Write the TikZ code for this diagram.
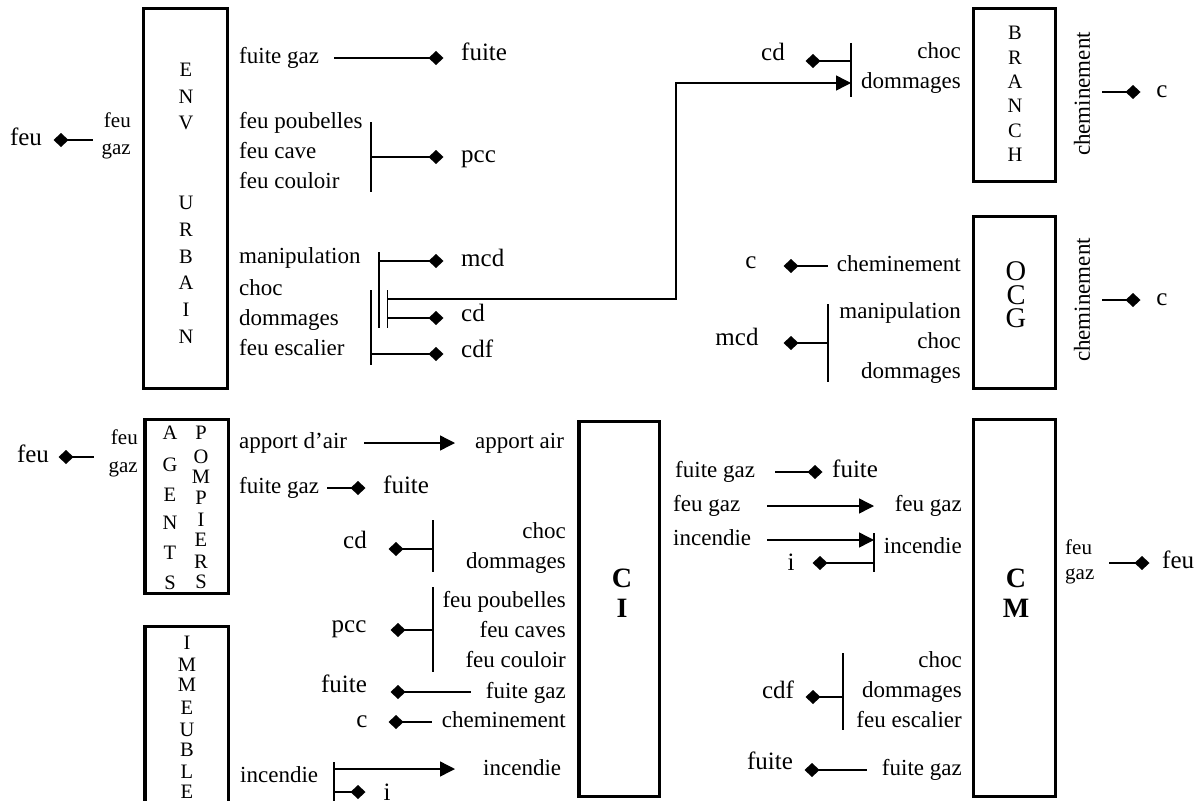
\documentclass[tikz,border=0pt]{standalone}
\usepackage{fontspec}
\setmainfont{Liberation Serif}
\usetikzlibrary{arrows.meta}
\newcommand{\Dmd}[3]{\coordinate (#1) at (#2,#3); \fill (#1) +(-7.5,0) -- +(0,-7) -- +(7.5,0) -- +(0,7) -- cycle;}
\tikzset{
  lb/.style={inner sep=0pt, font=\fontsize{23}{27}\selectfont, text height=10.4pt, text depth=0pt},
  lbw/.style={lb, anchor=west},
  lbe/.style={lb, anchor=east},
  bg/.style={inner sep=0pt, font=\fontsize{25}{29}\selectfont, text height=11.3pt, text depth=0pt},
  sm/.style={inner sep=0pt, font=\fontsize{21}{25}\selectfont, text height=9.5pt, text depth=0pt},
  boxlet/.style={inner sep=0pt, font=\fontsize{20.5}{24}\selectfont, text height=13.5pt, text depth=0pt},
  biglet/.style={inner sep=0pt, align=center, font=\fontsize{28.5}{23.5}\selectfont},
  boldlet/.style={inner sep=0pt, font=\fontsize{28}{32}\selectfont\bfseries, text height=18.5pt, text depth=0pt},
  rot/.style={inner sep=0pt, font=\fontsize{23}{27}\selectfont, text height=15.5pt, text depth=0pt, rotate=90},
  blk/.style={draw, line width=3.5pt, inner sep=0pt},
  cn/.style={line width=1.4pt},
  arr/.style={cn, -{Triangle[length=15pt,width=15pt]}}
}
\begin{document}
\begin{tikzpicture}[x=1pt,y=-1pt]
\useasboundingbox (0,0) rectangle (1198,800);
\clip (0,0) rectangle (1198,800);

% ===== ENV URBAIN =====
\node[blk, minimum width=84pt, minimum height=380pt] (env) at (185.5,198.5) {};
\foreach \l/\y [count=\i] in {E/70,N/97,V/123,U/203,R/230,B/257,A/283,I/310,N/337}
  \node[boxlet] (env\i) at (186,\y) {\l};
\node[bg] (fa) at (26,140) {feu};
\Dmd{fad}{61}{140}
\coordinate (fae) at (93,140);
\draw[cn] (fad) -- (fae);
\node[sm, anchor=east] (fa1) at (131,123) {feu};
\node[sm, anchor=east] (fa2) at (131,150) {gaz};

\node[lbw] (e1) at (239,58) {fuite gaz};
\coordinate (e1s) at (334,58);
\Dmd{e1d}{436}{58}
\draw[cn] (e1s) -- (e1d);
\node[bg, anchor=west] (e1r) at (461,55) {fuite};

\node[lbw] (e2) at (239,123) {feu poubelles};
\node[lbw] (e3) at (239,153) {feu cave};
\node[lbw] (e4) at (239,183) {feu couloir};
\coordinate (b1t) at (371,122); \coordinate (b1b) at (371,192); \coordinate (b1m) at (371,157);
\draw[cn] (b1t) -- (b1b);
\Dmd{e2d}{436}{157}
\draw[cn] (b1m) -- (e2d);
\node[bg, anchor=west] (e2r) at (461,157) {pcc};

\node[lbw] (e5) at (239,258) {manipulation};
\node[lbw] (e6) at (239,290) {choc};
\node[lbw] (e7) at (239,320) {dommages};
\node[lbw] (e8) at (239,350) {feu escalier};
\coordinate (bAt) at (371,290); \coordinate (bAb) at (371,365); \coordinate (bAm) at (371,354);
\coordinate (bBt) at (379,252); \coordinate (bBb) at (379,328); \coordinate (bBm) at (379,261);
\coordinate (bCt) at (387.5,290); \coordinate (bCb) at (387.5,328);
\coordinate (bCm) at (387.5,318); \coordinate (bCu) at (387.5,299);
\draw[cn] (bAt) -- (bAb);
\draw[cn] (bBt) -- (bBb);
\draw[cn] (bCt) -- (bCb);
\Dmd{e5d}{436}{261}
\draw[cn] (bBm) -- (e5d);
\node[bg, anchor=west] (e5r) at (461,261) {mcd};
\Dmd{e7d}{436}{318}
\draw[cn] (bCm) -- (e7d);
\node[bg, anchor=west] (e7r) at (461,316) {cd};
\Dmd{e8d}{436}{354}
\draw[cn] (bAm) -- (e8d);
\node[bg, anchor=west] (e8r) at (461,352) {cdf};

% ===== BRANCH =====
\node[blk, minimum width=82pt, minimum height=173pt] (branch) at (1014.5,95) {};
\foreach \l/\y [count=\i] in {B/33,R/58,A/82,N/106,C/131,H/155}
  \node[boxlet] (br\i) at (1015,\y) {\l};
\coordinate (bDt) at (851,43); \coordinate (bDb) at (851,97);
\coordinate (bDm) at (851,61); \coordinate (bDa) at (851,83);
\draw[cn] (bDt) -- (bDb);
\node[bg] (r1) at (773,55) {cd};
\Dmd{r1d}{813}{61}
\draw[cn] (r1d) -- (bDm);
\node[lbe] (r2) at (961,53) {choc};
\node[lbe] (r3) at (961,83) {dommages};
\draw[arr] (bCu) -- ++(288.5,0) |- (bDa);
\node[rot] (ch1) at (1082,94) {cheminement};
\coordinate (ch1s) at (1102,92);
\Dmd{ch1d}{1133}{92}
\draw[cn] (ch1s) -- (ch1d);
\node[bg] (ch1r) at (1162,92) {c};

% ===== OCG =====
\node[blk, minimum width=82pt, minimum height=172pt] (ocg) at (1014.5,302.5) {};
\node[biglet] (ocl) at (1016,295) {O\\C\\G};
\node[rot] (ch2) at (1082,300) {cheminement};
\coordinate (ch2s) at (1102,300);
\Dmd{ch2d}{1133}{300}
\draw[cn] (ch2s) -- (ch2d);
\node[bg] (ch2r) at (1162,300) {c};

\node[bg] (o1) at (751,263) {c};
\Dmd{o1d}{791}{266}
\coordinate (o1e) at (828,266);
\draw[cn] (o1d) -- (o1e);
\node[lbe] (o1r) at (961,266) {cheminement};
\node[bg] (o2) at (737,340) {mcd};
\Dmd{o2d}{791}{343}
\coordinate (bEt) at (828,304); \coordinate (bEb) at (828,382); \coordinate (bEm) at (828,343);
\draw[cn] (bEt) -- (bEb);
\draw[cn] (o2d) -- (bEm);
\node[lbe] (o3) at (961,313) {manipulation};
\node[lbe] (o4) at (961,343) {choc};
\node[lbe] (o5) at (961,373) {dommages};

% ===== AGENTS POMPIERS =====
\node[blk, minimum width=83.5pt, minimum height=174pt] (agents) at (186.75,506.5) {};
\foreach \l/\y [count=\i] in {A/433,G/465,E/495,N/523,T/553,S/583}
  \node[boxlet] (ag\i) at (170,\y) {\l};
\foreach \l/\y [count=\i] in {P/433,O/457,M/477,P/498,I/520,E/540,R/562,S/582}
  \node[boxlet] (po\i) at (201,\y) {\l};
\node[bg] (fb) at (33,457) {feu};
\Dmd{fbd}{66}{457}
\coordinate (fbe) at (94,457);
\draw[cn] (fbd) -- (fbe);
\node[sm, anchor=east] (fb1) at (138,440) {feu};
\node[sm, anchor=east] (fb2) at (138,468) {gaz};

% ===== IMMEUBLE =====
\node[blk, minimum width=83.5pt, minimum height=210pt] (imm) at (186.75,731.5) {};
\foreach \l/\y [count=\i] in {I/643,M/665,M/685,E/708,U/730,B/750,L/772,E/792}
  \node[boxlet] (im\i) at (187,\y) {\l};

% ===== CI =====
\node[blk, minimum width=80.5pt, minimum height=375pt] (ci) at (619.25,609) {};
\node[boldlet] (ci1) at (622,578) {C};
\node[boldlet] (ci2) at (622,608) {I};

\node[lbw] (a1) at (239,443) {apport d’air};
\coordinate (a1s) at (364,443); \coordinate (a1e) at (455,443);
\draw[arr] (a1s) -- (a1e);
\node[lbw] (a1r) at (475,443) {apport air};

\node[lbw] (a2) at (239,488) {fuite gaz};
\coordinate (a2s) at (327,488);
\Dmd{a2d}{358}{488}
\draw[cn] (a2s) -- (a2d);
\node[bg, anchor=west] (a2r) at (383,488) {fuite};

\node[bg] (a3) at (355,543) {cd};
\Dmd{a3d}{396}{549}
\coordinate (bFt) at (433,520); \coordinate (bFb) at (433,572); \coordinate (bFm) at (433,549);
\draw[cn] (bFt) -- (bFb);
\draw[cn] (a3d) -- (bFm);
\node[lbe] (a3a) at (566,533) {choc};
\node[lbe] (a3b) at (566,563) {dommages};

\node[bg] (a4) at (349,627) {pcc};
\Dmd{a4d}{398}{630}
\coordinate (bGt) at (433,587); \coordinate (bGb) at (433,672); \coordinate (bGm) at (433,630);
\draw[cn] (bGt) -- (bGb);
\draw[cn] (a4d) -- (bGm);
\node[lbe] (a4a) at (566,602) {feu poubelles};
\node[lbe] (a4b) at (566,632) {feu caves};
\node[lbe] (a4c) at (566,662) {feu couloir};

\node[bg] (a5) at (344,687) {fuite};
\Dmd{a5d}{398}{692}
\coordinate (a5e) at (471,692);
\draw[cn] (a5d) -- (a5e);
\node[lbe] (a5r) at (566,693) {fuite gaz};

\node[bg] (a6) at (362,722) {c};
\Dmd{a6d}{396}{722}
\coordinate (a6e) at (432,722);
\draw[cn] (a6d) -- (a6e);
\node[lbe] (a6r) at (566,722) {cheminement};

\node[lbw] (a7) at (240,777) {incendie};
\coordinate (bHt) at (334,762); \coordinate (bHb) at (334,805);
\coordinate (bHa) at (334,769); \coordinate (bHd) at (334,792);
\draw[cn] (bHt) -- (bHb);
\coordinate (a7e) at (455,769);
\draw[arr] (bHa) -- (a7e);
\node[lbw] (a7r) at (483,770) {incendie};
\Dmd{a7d}{358}{792}
\draw[cn] (bHd) -- (a7d);
\node[bg] (a7i) at (387,795) {i};

% ===== CM =====
\node[blk, minimum width=82pt, minimum height=377pt] (cm) at (1014.5,608) {};
\node[boldlet] (cm1) at (1016,578) {C};
\node[boldlet] (cm2) at (1016,608) {M};

\node[lbw] (c1) at (675,472) {fuite gaz};
\coordinate (c1s) at (775,472);
\Dmd{c1d}{815}{472}
\draw[cn] (c1s) -- (c1d);
\node[bg, anchor=west] (c1r) at (832,472) {fuite};

\node[lbw] (c2) at (673,506) {feu gaz};
\coordinate (c2s) at (767,506); \coordinate (c2e) at (874,506);
\draw[arr] (c2s) -- (c2e);
\node[lbe] (c2r) at (962,506) {feu gaz};

\node[lbw] (c3) at (673,540) {incendie};
\coordinate (bIt) at (874,533); \coordinate (bIb) at (874,572);
\coordinate (bIa) at (874,540); \coordinate (bId) at (874,563);
\draw[cn] (bIt) -- (bIb);
\coordinate (c3s) at (767,540);
\draw[arr] (c3s) -- (bIa);
\node[lbe] (c3r) at (962,548) {incendie};
\node[bg] (c3i) at (791,565) {i};
\Dmd{c3d}{820}{563}
\draw[cn] (c3d) -- (bId);

\node[sm, anchor=west] (fc1) at (1065,550) {feu};
\node[sm, anchor=west] (fc2) at (1065,575) {gaz};
\coordinate (fcs) at (1109,563);
\Dmd{fcd}{1142}{563}
\draw[cn] (fcs) -- (fcd);
\node[bg, anchor=west] (fcr) at (1162,563) {feu};

\node[lbe] (c4a) at (962,662) {choc};
\node[lbe] (c4b) at (962,692) {dommages};
\node[lbe] (c4c) at (962,722) {feu escalier};
\coordinate (bJt) at (843,653); \coordinate (bJb) at (843,730); \coordinate (bJm) at (843,697);
\draw[cn] (bJt) -- (bJb);
\Dmd{c4d}{813}{697}
\draw[cn] (c4d) -- (bJm);
\node[bg] (c4) at (778,693) {cdf};

\node[bg] (c5) at (770,764) {fuite};
\Dmd{c5d}{812}{770}
\coordinate (c5e) at (867,770);
\draw[cn] (c5d) -- (c5e);
\node[lbe] (c5r) at (962,770) {fuite gaz};
\end{tikzpicture}
\end{document}
